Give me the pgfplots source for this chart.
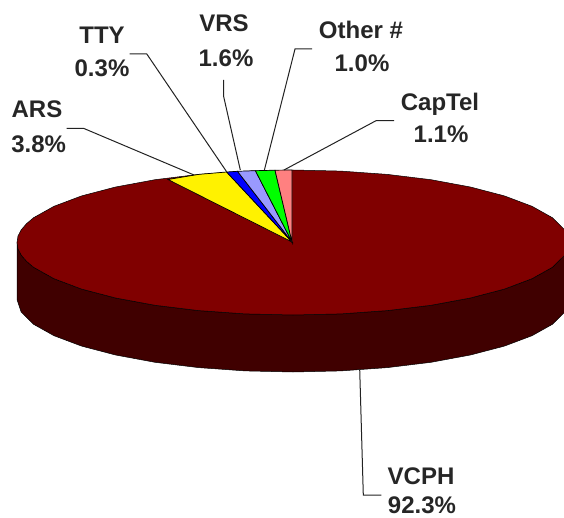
\documentclass[border=0pt]{standalone}
\usepackage{fontspec}
\setmainfont{Liberation Sans}
\usepackage{pgfplots}
\pgfplotsset{compat=1.18}
\definecolor{vcph}{HTML}{800000}
\definecolor{vside}{HTML}{400000}
\definecolor{peri}{HTML}{9999FF}
\definecolor{pink}{HTML}{FF8080}
\definecolor{leader}{HTML}{222222}
\tikzset{lbl/.style={font=\fontsize{24}{27}\selectfont\bfseries, anchor=base, text=black!85, inner sep=0pt}}
\begin{document}
\begin{tikzpicture}
\begin{axis}[
  width=564pt, height=518pt, scale only axis,
  xmin=0, xmax=564, ymin=0, ymax=518, y dir=reverse,
  hide axis, clip=true,
]
% side wall
\addplot[fill=vside, draw=black, line width=0.5pt] coordinates {
 (17,242.5)(18,249)(21.2,255.1)(26.5,261.3)(33.6,267.3)(54,278.7)(81.6,289.1)(115.6,298)(155,305.3)(198.6,310.6)(245.1,313.9)(293,315)(340.9,313.9)(387.4,310.6)(431,305.3)(470.4,298)(504.4,289.1)(532,278.7)(552.4,267.3)(564.8,255.1)(569,242.5)
 (569,299.5)(564.8,312.1)(552.4,324.3)(532,335.7)(504.4,346.1)(470.4,355)(431,362.3)(387.4,367.6)(340.9,370.9)(293,372)(245.1,370.9)(198.6,367.6)(155,362.3)(115.6,355)(81.6,346.1)(54,335.7)(33.6,324.3)(21.2,312.1)(17,299.5)
} -- cycle;
% VCPH top
\addplot[fill=vcph, draw=black, line width=0.5pt] coordinates {
 (569,242.5)(564.8,229.9)(552.4,217.7)(532,206.3)(504.4,195.9)(470.4,187)(431,179.7)(387.4,174.4)(340.9,171.1)(293,170)(245.1,171.1)(198.6,174.4)(155,179.7)(115.6,187)(81.6,195.9)(54,206.3)(33.6,217.7)(26.5,223.7)(21.2,229.9)(18,236)(17,242.5)(18,249)(21.2,255.1)(26.5,261.3)(33.6,267.3)(54,278.7)(81.6,289.1)(115.6,298)(155,305.3)(198.6,310.6)(245.1,313.9)(293,315)(340.9,313.9)(387.4,310.6)(431,305.3)(470.4,298)(504.4,289.1)(532,278.7)(552.4,267.3)(564.8,255.1)
} -- cycle;
% small slices
\addplot[fill=yellow, draw=black, line width=0.7pt] coordinates {(292,242)(168,179.5)(198.6,174.4)(226.6,172)} -- cycle;
\addplot[fill=blue, draw=black, line width=0.7pt] coordinates {(292,242)(226.6,172)(237.5,171.3)} -- cycle;
\addplot[fill=peri, draw=black, line width=0.7pt] coordinates {(292,242)(237.5,171.3)(255.4,170.7)} -- cycle;
\addplot[fill=green, draw=black, line width=0.7pt] coordinates {(292,242)(255.4,170.7)(275,170.2)} -- cycle;
\addplot[fill=pink, draw=black, line width=0.7pt] coordinates {(292,242)(275,170.2)(292,170)} -- cycle;
% leader lines
\addplot[leader, line width=1pt] coordinates {(66.5,128.3)(83.5,128.3)(194,175)};
\addplot[leader, line width=1pt] coordinates {(129.5,54)(146.8,54)(226.6,171.7)};
\addplot[leader, line width=1pt] coordinates {(223.7,80)(223.7,96.7)(240.3,170)};
\addplot[leader, line width=1pt] coordinates {(312,49)(295,49)(264.4,170)};
\addplot[leader, line width=1pt] coordinates {(394,120.7)(376,120.7)(284,170)};
\addplot[leader, line width=1pt] coordinates {(359.7,369.3)(363.3,495)(381.3,495)};
% labels
\node[lbl] at (axis cs:37,118) {ARS};
\node[lbl] at (axis cs:38.6,153) {3.8\%};
\node[lbl] at (axis cs:102,44) {TTY};
\node[lbl] at (axis cs:102,77) {0.3\%};
\node[lbl] at (axis cs:224,32) {VRS};
\node[lbl] at (axis cs:226,67) {1.6\%};
\node[lbl] at (axis cs:361,39) {Other \#};
\node[lbl] at (axis cs:362,72) {1.0\%};
\node[lbl] at (axis cs:440,111) {CapTel};
\node[lbl] at (axis cs:441,143) {1.1\%};
\node[lbl] at (axis cs:421,484) {VCPH};
\node[lbl] at (axis cs:422,513) {92.3\%};
\coordinate (pa) at (axis cs:0,0);
\coordinate (pb) at (axis cs:564,518);
\end{axis}
\pgfresetboundingbox
\path[use as bounding box] (pa) rectangle (pb);
\end{tikzpicture}
\end{document}
